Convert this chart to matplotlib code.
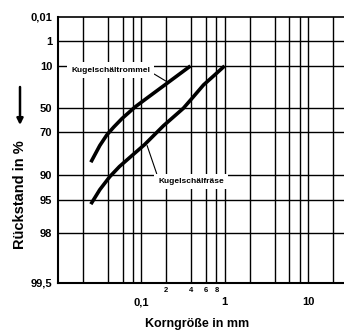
import numpy as np
import matplotlib
matplotlib.use("Agg")
import matplotlib.pyplot as plt

plt.rcParams['font.family'] = ['Liberation Sans', 'DejaVu Sans']
plt.rcParams['font.weight'] = 'bold'

# Rückstand curves (grain size in mm, residue in %)
trommel_x = [0.025, 0.032, 0.039, 0.047, 0.059, 0.085, 0.12, 0.2, 0.39]
trommel_r = [86, 78.5, 72, 66.5, 59.5, 48.5, 39, 25, 10]

fraese_x = [0.025, 0.032, 0.042, 0.055, 0.074, 0.11, 0.185, 0.32,
            0.42, 0.56, 0.75, 1.0]
fraese_r = [95.5, 93.3, 90.5, 87.5, 84, 78, 65.5, 50, 38.5, 26, 17.2, 10]

# axis ticks and grid
y_ticks = [0.01, 1, 10, 50, 70, 90, 95, 98, 99.5]
y_labels = ['0,01', '1', '10', '50', '70', '90', '95', '98', '99,5']
x_major = [0.1, 1, 10]
x_major_labels = ['0,1', '1', '10']
x_minor = [0.2, 0.4, 0.6, 0.8]
x_minor_labels = ['2', '4', '6', '8']
x_grid = [0.02, 0.04, 0.06, 0.08, 0.1, 0.2, 0.4, 0.6, 0.8,
          1, 2, 4, 6, 8, 10, 20]
y_grid = [1, 10, 50, 70, 90, 95, 98]


# RRSB grid: log(ln(100/R))
def rrsb(r):
    r = np.asarray(r, dtype=float)
    with np.errstate(all='ignore'):
        return np.log10(np.log(100.0 / r))


def rrsb_inv(t):
    t = np.asarray(t, dtype=float)
    with np.errstate(all='ignore'):
        return 100.0 * np.exp(-10.0 ** t)


fig = plt.figure(figsize=(3.44, 3.30), dpi=100)
ax = fig.add_axes([58 / 344, 1 - 282.5 / 330, 1 - 58 / 344, 265.5 / 330])

ax.set_xscale('log')
ax.set_yscale('function', functions=(rrsb, rrsb_inv))
ax.set_xlim(0.0101, 27)
ax.set_ylim(0.01, 99.5)

for gx in x_grid:
    ax.axvline(gx, color='black', lw=1.0, zorder=1)
for gy in y_grid:
    ax.axhline(gy, color='black', lw=1.0, zorder=1)

ax.plot(trommel_x, trommel_r, color='black', lw=2.6,
        solid_capstyle='butt', solid_joinstyle='round', zorder=3)
ax.plot(fraese_x, fraese_r, color='black', lw=2.6,
        solid_capstyle='butt', solid_joinstyle='round', zorder=3)

box = dict(boxstyle='square,pad=0.5', fc='white', ec='none')
ax.annotate('Kugelschältrommel', xy=(0.205, 23), xytext=(0.0145, 12.9),
            fontsize=6, ha='left', va='center', bbox=box, zorder=4,
            arrowprops=dict(arrowstyle='-', color='black', lw=0.8,
                            relpos=(1.0, 0.3), shrinkA=0, shrinkB=0))
ax.annotate('Kugelschälfräse', xy=(0.118, 78.5), xytext=(0.16, 91.6),
            fontsize=6, ha='left', va='center', bbox=box, zorder=4,
            arrowprops=dict(arrowstyle='-', color='black', lw=0.8,
                            relpos=(0.0, 1.0), shrinkA=0, shrinkB=0))

ax.set_yticks(y_ticks, y_labels)
ax.set_xticks(x_major, x_major_labels)
ax.set_xticks(x_minor, x_minor_labels, minor=True)
ax.yaxis.set_minor_locator(matplotlib.ticker.NullLocator())
ax.tick_params(axis='y', length=0, pad=4, labelsize=8)
ax.tick_params(axis='x', which='major', length=0, pad=10.5, labelsize=8)
ax.tick_params(axis='x', which='minor', length=0, pad=3, labelsize=5.5)

for side in ['left', 'bottom']:
    ax.spines[side].set_linewidth(1.5)
ax.spines['top'].set_linewidth(1.2)
ax.spines['right'].set_visible(False)

fig.text(20 / 344, 1 - 195 / 330, 'Rückstand in %', rotation=90,
         ha='center', va='center', fontsize=10.5)
ax.annotate('', xy=(20, 330 - 125), xytext=(20, 330 - 87),
            xycoords='figure pixels', textcoords='figure pixels',
            arrowprops=dict(arrowstyle='-|>', color='black', lw=1.8,
                            mutation_scale=9, shrinkA=0, shrinkB=0))
fig.text(197 / 344, 2.5 / 330, 'Korngröße in mm', ha='center',
         va='baseline', fontsize=9)

fig.savefig('out.png', dpi=100)
